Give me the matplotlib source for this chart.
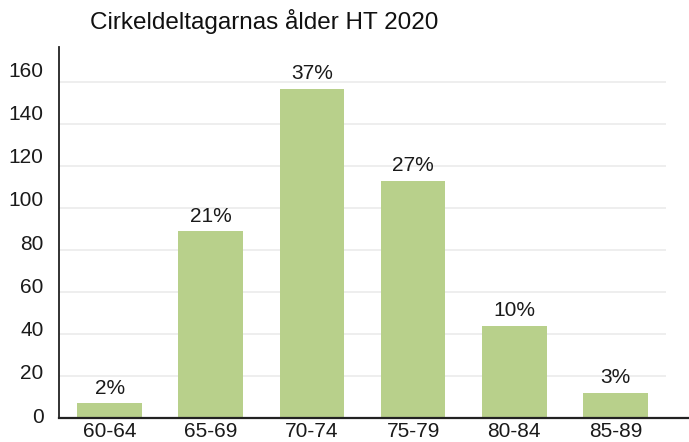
import matplotlib
matplotlib.use("Agg")
import matplotlib.pyplot as plt
from matplotlib.lines import Line2D
from matplotlib.transforms import ScaledTranslation

categories = ["60-64", "65-69", "70-74", "75-79", "80-84", "85-89"]
values = [7, 89, 157, 113, 44, 12]
pct_labels = ["2%", "21%", "37%", "27%", "10%", "3%"]
yticks = [0, 20, 40, 60, 80, 100, 120, 140, 160]
title = "Cirkeldeltagarnas ålder HT 2020"

plt.rcParams['font.family'] = ['Liberation Sans', 'DejaVu Sans']

fig = plt.figure(figsize=(6.89, 4.42), dpi=100)
ax = fig.add_axes([59/689, 24/442, (666-59)/689, (418-46.7)/442])

x = list(range(len(categories)))
ax.bar(x, values, width=0.64, color="#b8d08b", zorder=2)
for xi, v, lab in zip(x, values, pct_labels):
    ax.annotate(lab, (xi, v), xytext=(0, 4), textcoords="offset points",
                ha="center", va="bottom", fontsize=15, color="#1a1a1a")

ax.set_xlim(-0.5, 5.5)
ax.set_ylim(0, 177)
ax.set_yticks(yticks)
ax.set_xticks(x)
ax.set_xticklabels(categories)
ax.tick_params(axis="both", length=0, labelsize=15, colors="#1a1a1a")
ax.tick_params(axis="y", pad=11)
ax.tick_params(axis="x", pad=3)
for lab, t in zip(ax.get_yticklabels(), yticks):
    lab.set_verticalalignment("center_baseline")
    dy = (2 + 7.5 * t / 160) / 72
    lab.set_transform(lab.get_transform() + ScaledTranslation(0, dy, fig.dpi_scale_trans))
ax.grid(axis="y", color="#ebebeb", linewidth=1.2, zorder=0)
ax.set_axisbelow(True)
for s in ["top", "right", "bottom"]:
    ax.spines[s].set_visible(False)
ax.spines["left"].set_color("#222222")
ax.spines["left"].set_linewidth(1.3)

# x-axis baseline extending to the figure edge
fig.add_artist(Line2D([59/689, 1.0], [24/442, 24/442], color="#222222",
                      linewidth=1.6, transform=fig.transFigure))

fig.text(90/689, 1 - 22/442, title, fontsize=17.5, ha="left", va="center",
         color="#111111")

fig.savefig("out.png", dpi=100)
